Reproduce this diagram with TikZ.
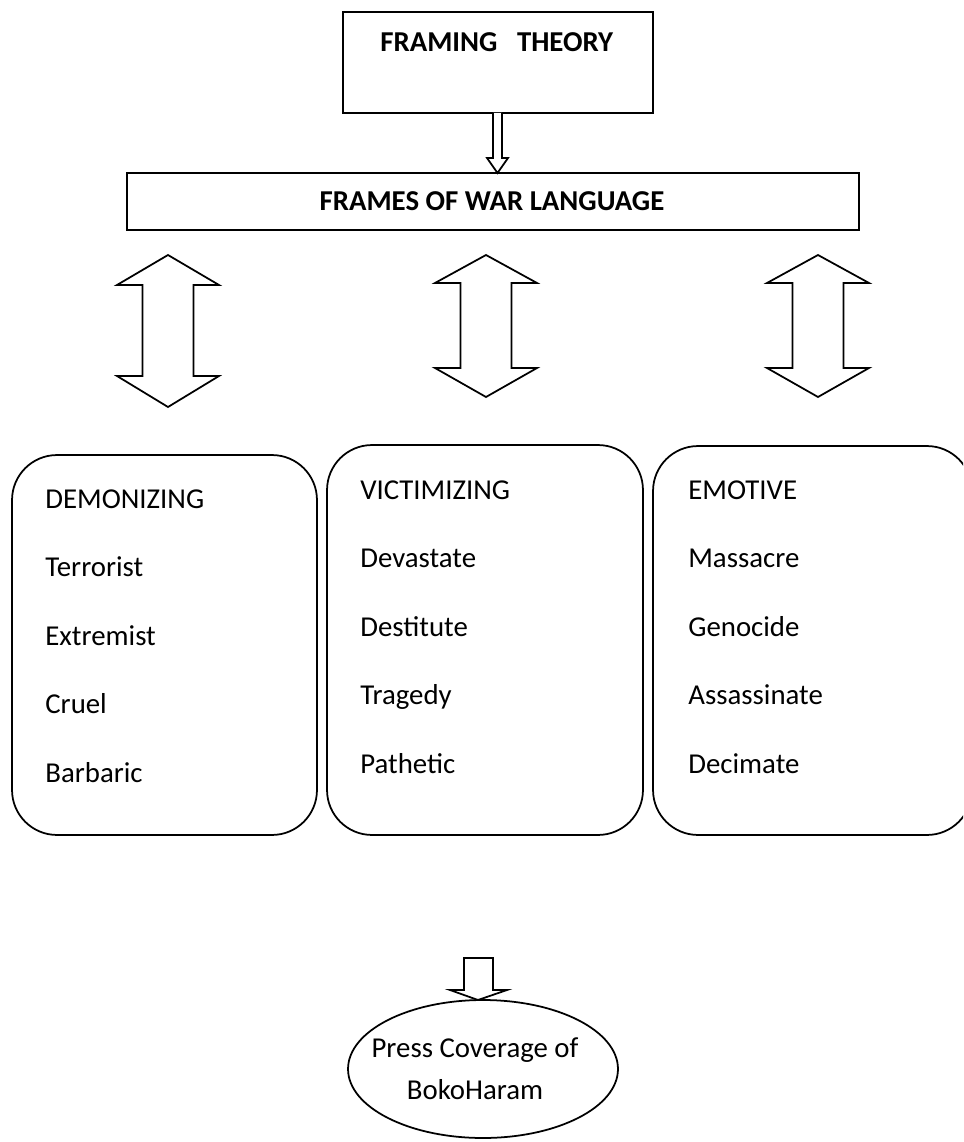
\documentclass[tikz,border=0pt]{standalone}
\usepackage{fontspec}
\setmainfont{Carlito}
\usetikzlibrary{positioning, shapes}

\tikzset{
    plainbox/.style={draw, line width=1pt, inner sep=0pt, outer sep=0pt},
    catbox/.style={plainbox, rounded corners=0.9cm},
    word/.style={anchor=base west, inner sep=0pt},
    blockarrow/.style={draw, fill=white, line width=1pt, line join=miter}
}

\begin{document}
\begin{tikzpicture}[x=0.02cm, y=-0.02cm, font=\fontsize{16.4}{20}\selectfont]
    % Page, 963 x 1142 px
    \fill[white] (0,0) rectangle (963,1142);
    \clip (0,0) rectangle (963,1142);

    % Theory and frames boxes
    \node[plainbox, minimum width=6.2cm, minimum height=2.02cm] (theory) at (498,62.5) {};
    \node[word] (theorytxt) at (380,52) {\bfseries FRAMING\ \ \ THEORY};
    \node[plainbox, minimum width=14.64cm, minimum height=1.14cm] (frames) at (493,201.5) {};
    \node[anchor=base, inner sep=0pt] (framestxt) at (492,211) {\bfseries FRAMES OF WAR LANGUAGE};

    % Arrow theory -> frames
    \coordinate (downtop) at (497.5,113);
    \coordinate (downtip) at (497.5,173);
    \draw[blockarrow] (493,113) -- (493,158) -- (487,158) -- (downtip) -- (508,158) -- (502,158) -- (502,113);

    % Double arrows below the frames box
    \foreach \cx/\hy/\ly/\by in {168/285/376/407, 486/283/368/397, 818/283/368/397} {
        \draw[blockarrow] (\cx,255) -- (\cx+51,\hy) -- (\cx+25.5,\hy) -- (\cx+25.5,\ly) -- (\cx+51,\ly)
            -- (\cx,\by) -- (\cx-51,\ly) -- (\cx-25.5,\ly) -- (\cx-25.5,\hy) -- (\cx-51,\hy) -- cycle;
    }

    % Category boxes
    \node[catbox, minimum width=6.1cm, minimum height=7.6cm] (demon) at (164.5,645) {};
    \node[catbox, minimum width=6.32cm, minimum height=7.8cm] (victim) at (485,640) {};
    \node[catbox, minimum width=6.38cm, minimum height=7.78cm] (emotive) at (812.5,640.5) {};

    % Words
    \foreach \w [count=\i from 0] in {DEMONIZING, Terrorist, Extremist, Cruel, Barbaric}
        \node[word] (dem\i) at (45, 508+68.5*\i) {\w};
    \foreach \w [count=\i from 0] in {VICTIMIZING, Devastate, Destitute, Tragedy, Pathetic}
        \node[word] (vic\i) at (360, 499+68.5*\i) {\w};
    \foreach \w [count=\i from 0] in {EMOTIVE, Massacre, Genocide, Assassinate, Decimate}
        \node[word] (emo\i) at (688, 499+68.5*\i) {\w};

    % Press coverage
    \node[draw, ellipse, line width=1pt, inner sep=0pt, minimum width=5.4cm, minimum height=2.76cm] (press) at (483,1069) {};
    \node[align=center, inner sep=0pt, font=\fontsize{16.4}{23.8}\selectfont] (presstxt) at (475,1069) {Press Coverage of\\BokoHaram};
    \coordinate (presstip) at (478,1000);
    \draw[blockarrow] (464,958) -- (464,990) -- (450,990) -- (presstip) -- (507,990) -- (493,990) -- (493,958) -- cycle;
\end{tikzpicture}
\end{document}
